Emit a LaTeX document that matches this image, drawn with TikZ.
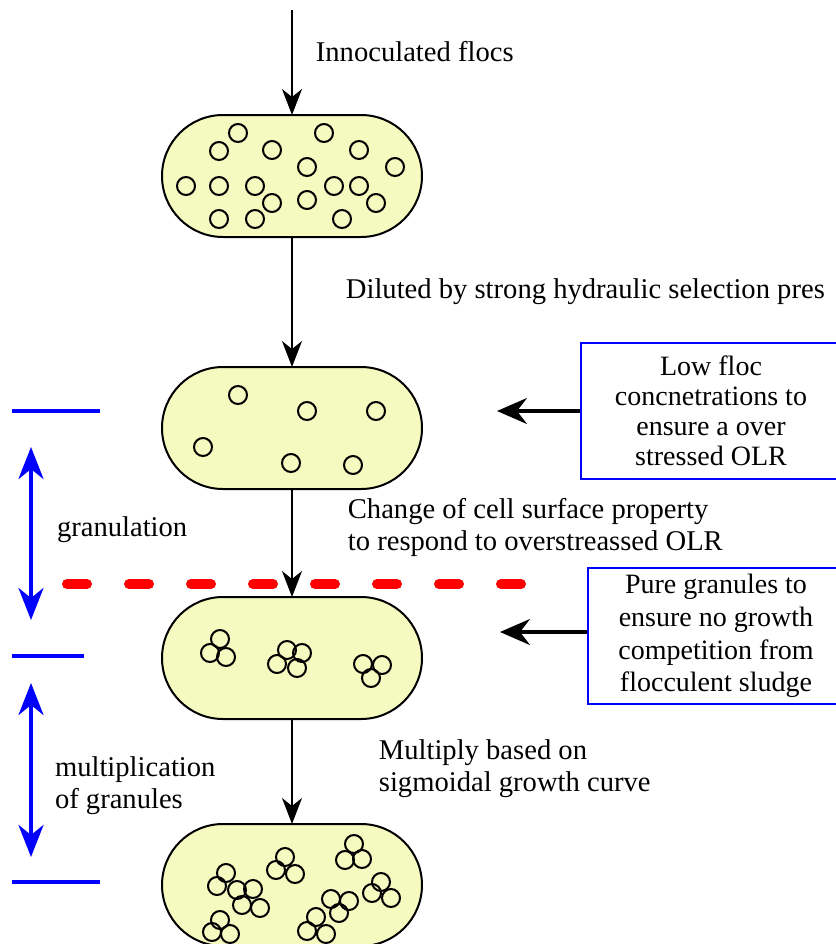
\documentclass[tikz,border=0pt]{standalone}
\usepackage{fontspec}
\setmainfont{Liberation Serif}
\usetikzlibrary{arrows.meta,positioning,shapes.misc}
\definecolor{flocfill}{RGB}{245,250,192}

\begin{document}
\begin{tikzpicture}[x=0.5pt, y=-0.5pt, font=\fontsize{14.3pt}{16pt}\selectfont]
	\tikzstyle{capsule}=[draw, line width=1pt, fill=flocfill, rounded rectangle,
		minimum width=130pt, minimum height=61pt, inner sep=0pt, outer sep=0pt]
	\tikzstyle{floc}=[draw, line width=1pt]
	\tikzstyle{flow}=[line width=0.9pt, -{Stealth[length=13pt,width=10pt,inset=4pt]}]
	\tikzstyle{push}=[line width=1.6pt, -{Stealth[length=15pt,width=13pt,inset=5pt]}]
	\tikzstyle{infobox}=[draw=blue, line width=1pt, align=center,
		minimum width=128pt, minimum height=68pt, inner sep=0pt]
	\tikzstyle{note}=[inner sep=0pt, align=left, text=black]
	\tikzstyle{bar}=[draw=blue, line width=2pt]
	\tikzstyle{span}=[blue, line width=2pt,
		{Stealth[length=16pt,width=12.5pt,inset=5pt]}-{Stealth[length=16pt,width=12.5pt,inset=5pt]}]
	\tikzstyle{cut}=[red, line width=5pt, line cap=round, dash pattern=on 10pt off 21pt]
	\useasboundingbox (0,0) rectangle (836,944);
	% % Nodes
	% reactor stages
	\node[capsule] (cap1) at (292,176) {};
	\node[capsule, below=65pt of cap1] (cap2) {};
	\node[capsule, below=54pt of cap2] (cap3) {};
	\node[capsule, below=52.5pt of cap3] (cap4) {};
	\coordinate[above=52.5pt of cap1] (feed);
	% flocs and granules
	\begin{scope}[shift={(cap1.center)}]
		\foreach \dx/\dy in {-54/-43, -73/-25, -20/-26, 32/-43, 67/-26, 15/-9, 103/-9,
			-106/10, -73/10, -37/10, -20/27, 15/24, 42/10, 67/10, 84/27,
			-73/43, -37/43, 50/43}
			\draw[floc] (\dx,\dy) circle[radius=4.5pt];
	\end{scope}
	\begin{scope}[shift={(cap2.center)}]
		\foreach \dx/\dy in {-54/-33, 15/-17, 84/-17, -89/19, -1/35, 61/37}
			\draw[floc] (\dx,\dy) circle[radius=4.5pt];
	\end{scope}
	\begin{scope}[shift={(cap3.center)}]
		\foreach \dx/\dy in {-72/-19, -82/-5, -66/-1,
			-5/-8, 10/-5, -15/6, 5/10,
			71/6, 90/7, 79/20}
			\draw[floc] (\dx,\dy) circle[radius=4.5pt];
	\end{scope}
	\begin{scope}[shift={(cap4.center)}]
		\foreach \dx/\dy in {-7/-28, -16/-15, 3/-11,
			62/-41, 53/-25, 70/-26,
			-66/-12, -75/1, -55/5, -39/4, -50/20, -32/23,
			-72/35, -80/47, -62/49,
			89/-3, 80/8, 99/13,
			39/14, 57/16, 47/28,
			24/32, 15/46, 34/49}
			\draw[floc] (\dx,\dy) circle[radius=4.5pt];
	\end{scope}
	% side conditions
	\node[infobox, minimum width=130pt, right=79pt of cap2, yshift=8.5pt,
		font=\fontsize{14pt}{15pt}\selectfont] (lowbox)
	{Low floc\\concnetrations to\\ensure a over\\stressed OLR};
	\node[infobox, right=82.5pt of cap3, yshift=11pt,
		font=\fontsize{14pt}{16.3pt}\selectfont] (purebox)
	{Pure granules to\\ensure no growth\\competition from\\flocculent sludge};
	\coordinate[left=41.5pt of lowbox] (lowtip);
	\coordinate[left=43.5pt of purebox, yshift=2pt] (puretip);
	% phase marks
	\coordinate (g1) at (31,411);
	\coordinate (g2) at (31,656);
	\coordinate (g3) at (31,882);
	\coordinate (cutL) at (67,584);
	\coordinate (cutR) at (521,584);
	% % Connectors
	\draw[flow] (feed) -- node[note, pos=0.4, right=11.5pt]{Innoculated flocs} (cap1);
	\draw[flow] (cap1) -- node[note, pos=0.42, right=26.5pt]
		{Diluted by strong hydraulic selection pres} (cap2);
	\draw[flow] (cap2) -- node[note, pos=0.36, right=27.5pt]
		{Change of cell surface property\\to respond to overstreassed OLR} (cap3);
	\draw[flow] (cap3) -- node[note, pos=0.476, right=43pt]
		{Multiply based on\\sigmoidal growth curve} (cap4);
	\draw[push] (lowbox) -- (lowtip);
	\draw[push] ([yshift=2pt]purebox.west) -- (puretip);
	\draw[cut] (cutL) -- (cutR);
	\draw[bar] ([xshift=-9.5pt]g1) -- ([xshift=34.5pt]g1);
	\draw[bar] ([xshift=-9.5pt]g2) -- ([xshift=26.5pt]g2);
	\draw[bar] ([xshift=-9.5pt]g3) -- ([xshift=34.5pt]g3);
	\draw[span, shorten <=18pt, shorten >=18pt] (g1) --
		node[note, pos=0.486, right=12pt]{granulation} (g2);
	\draw[span, shorten <=13.5pt, shorten >=12.5pt] (g2) --
		node[note, pos=0.575, right=11pt]{multiplication\\of granules} (g3);
\end{tikzpicture}
\end{document}
